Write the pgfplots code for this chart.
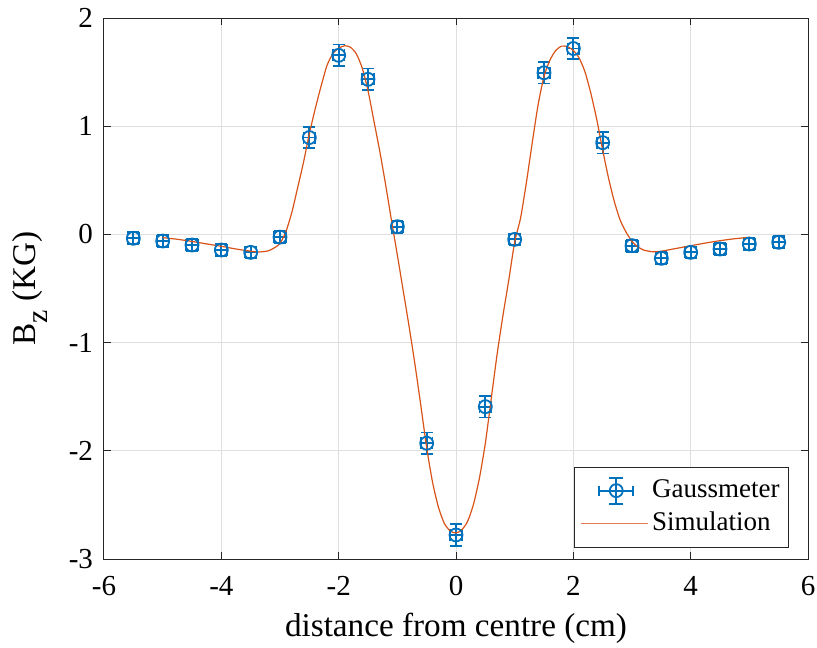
\documentclass[border=0pt]{standalone}
\usepackage{fontspec}
\setmainfont{Liberation Serif}
\usepackage{pgfplots}
\usepackage{pgfplotstable}
\pgfplotsset{compat=1.18}
\definecolor{mblue}{rgb}{0,0.447,0.741}
\definecolor{morange}{rgb}{0.85,0.325,0.098}
\definecolor{mgrid}{gray}{0.875}
\definecolor{maxis}{gray}{0.15}

\pgfplotstableread{
x y ex ey
-5.5 -0.036 0.1 0.055
-5.0 -0.061 0.1 0.055
-4.5 -0.098 0.1 0.055
-4.0 -0.144 0.1 0.055
-3.5 -0.166 0.1 0.055
-3.0 -0.025 0.1 0.055
-2.5 0.895 0.1 0.10
-2.0 1.655 0.1 0.10
-1.5 1.433 0.1 0.10
-1.0 0.071 0.1 0.055
-0.5 -1.930 0.1 0.10
0.0 -2.778 0.1 0.10
0.5 -1.592 0.1 0.10
1.0 -0.046 0.1 0.055
1.5 1.494 0.1 0.10
2.0 1.718 0.1 0.10
2.5 0.848 0.1 0.10
3.0 -0.104 0.1 0.055
3.5 -0.221 0.1 0.055
4.0 -0.166 0.1 0.055
4.5 -0.135 0.1 0.055
5.0 -0.089 0.1 0.055
5.5 -0.073 0.1 0.055
}\gauss

\pgfplotstableread{
x y
-5.0 -0.030
-4.75 -0.045
-4.5 -0.065
-4.25 -0.088
-4.0 -0.110
-3.75 -0.135
-3.5 -0.155
-3.35 -0.162
-3.2 -0.152
-3.1 -0.125
-3.0 -0.085
-2.9 0.025
-2.8 0.200
-2.7 0.430
-2.6 0.665
-2.5 0.930
-2.4 1.160
-2.3 1.370
-2.2 1.560
-2.1 1.670
-2.0 1.720
-1.9 1.744
-1.8 1.730
-1.7 1.670
-1.6 1.540
-1.5 1.330
-1.4 1.050
-1.3 0.770
-1.2 0.460
-1.1 0.130
-1.0 -0.190
-0.9 -0.520
-0.8 -0.850
-0.7 -1.200
-0.6 -1.580
-0.5 -1.970
-0.4 -2.290
-0.3 -2.520
-0.2 -2.670
-0.1 -2.740
0.0 -2.760
0.1 -2.730
0.2 -2.650
0.3 -2.490
0.4 -2.250
0.5 -1.930
0.6 -1.520
0.7 -1.110
0.8 -0.750
0.9 -0.420
1.0 -0.070
1.1 0.150
1.2 0.480
1.3 0.850
1.4 1.200
1.5 1.460
1.6 1.610
1.7 1.700
1.8 1.740
1.9 1.735
2.0 1.700
2.1 1.630
2.2 1.500
2.3 1.300
2.4 1.060
2.5 0.780
2.6 0.520
2.7 0.300
2.8 0.130
2.9 0.020
3.0 -0.065
3.1 -0.115
3.2 -0.145
3.35 -0.160
3.5 -0.155
3.75 -0.130
4.0 -0.105
4.25 -0.080
4.5 -0.058
4.75 -0.040
5.0 -0.027
}\simul

\begin{document}
\begin{tikzpicture}
\useasboundingbox (-52pt,-44pt) rectangle (356.5pt,279.5pt);
\begin{axis}[
  at={(0,0)}, anchor=south west,
  scale only axis, width=352pt, height=270.5pt,
  xmin=-6, xmax=6, ymin=-3, ymax=2,
  xtick={-6,-4,-2,0,2,4,6}, ytick={-3,-2,-1,0,1,2},
  xticklabels={-6,-4,-2,0,2,4,6},
  yticklabels={-3,-2,-1,0,1,2},
  tick align=inside, tick pos=both,
  major tick length=3.5pt,
  grid=major,
  major grid style={mgrid, line width=0.5pt},
  axis line style={maxis, line width=0.5pt},
  tick style={maxis, line width=0.5pt},
  ticklabel style={font=\fontsize{14.5}{16}\selectfont, text=black},
  xticklabel style={yshift=-5pt},
  yticklabel style={xshift=-2pt},
  xlabel={distance from centre (cm)},
  ylabel={B\raisebox{-0.75ex}{\fontsize{15}{15}\selectfont z}\ (KG)},
  every axis x label/.style={at={(axis description cs:0.5,0)}, anchor=base, yshift=-38.5pt, font=\fontsize{16.6}{18}\selectfont},
  every axis y label/.style={at={(axis description cs:-0.105,0.5)}, anchor=center, rotate=90, font=\fontsize{16.6}{18}\selectfont},
  legend cell align=left,
  legend style={at={(rel axis cs:0.973,0.021)}, anchor=south east, draw=maxis, line width=0.5pt,
    font=\fontsize{13.5}{15}\selectfont, inner xsep=3pt, inner ysep=3.5pt,
    nodes={inner sep=1.5pt, text height=10pt, text depth=3.5pt}},
]
\addplot[mblue, only marks, mark=o, mark size=3.25pt, mark options={line width=0.9pt},
  legend image code/.code={
    \draw[mblue, line width=0.9pt]
      (7.5pt,0pt) -- (24.5pt,0pt)
      (7.5pt,-2.5pt) -- (7.5pt,2.5pt)
      (24.5pt,-2.5pt) -- (24.5pt,2.5pt)
      (16pt,-6.5pt) -- (16pt,6.5pt)
      (12.5pt,6.5pt) -- (19.5pt,6.5pt)
      (12.5pt,-6.5pt) -- (19.5pt,-6.5pt);
    \draw[mblue, line width=0.9pt] (16pt,0pt) circle (3.25pt);
  },
  error bars/.cd, x dir=both, x explicit, y dir=both, y explicit,
  error bar style={line width=0.9pt, mblue},
  error mark options={rotate=90, mblue, mark size=3pt, line width=0.9pt}]
  table[x=x, y=y, x error=ex, y error=ey] {\gauss};
\addlegendentry{Gaussmeter}
\addplot[morange, line width=0.6pt, smooth, tension=0.4, no marks,
  legend image code/.code={\draw[morange!75, line width=0.8pt] (-1.5pt,0pt) -- (32pt,0pt);}]
  table[x=x, y=y] {\simul};
\addlegendentry{Simulation}
\end{axis}
\end{tikzpicture}
\end{document}
